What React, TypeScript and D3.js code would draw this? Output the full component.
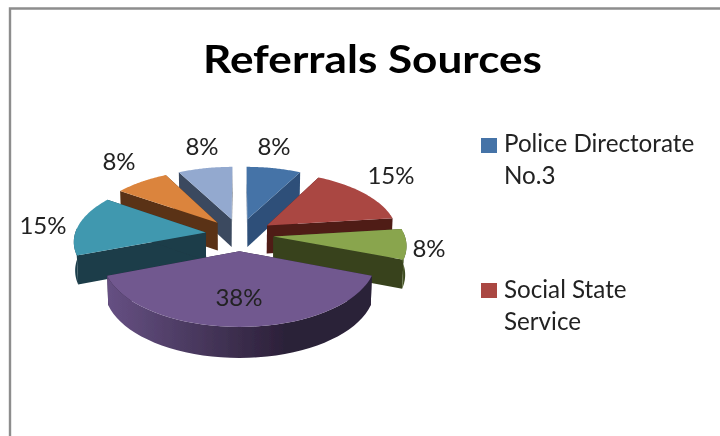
import React from "react";
import * as d3 from "d3";

const sources = ["Police Directorate No.3", "Social State Service", "Source 3", "Source 4", "Source 5", "Source 6", "Source 7"];
const counts = [1, 2, 1, 5, 2, 1, 1];
const topColors = ["#4573a7", "#aa4643", "#89a54e", "#71588f", "#4198af", "#db843d", "#93a9cf"];
const wallColors = ["#2e5079", "#4f1b18", "#38431f", "#2b2038", "#1b3c48", "#5a3316", "#3a485e"];
const rimLight = ["#3c6290", "#7a2f2c", "#55692e", "#665083", "#24505f", "#9a5a25", "#647590"];
const legendLines = [["Police Directorate", "No.3"], ["Social State", "Service"]];
const labelAnchors: [number, number][] = [[274, 155], [391, 184], [429, 257], [239, 306], [43, 234], [119, 170], [202, 155]];
const legendBaselines = [[152, 184], [298, 330]];
const legendSwatchY = [138, 283];

const CX = 239.5, CY = 234.5, RX = 131, RY = 62.2, K = 0.121, EXPLODE = 0.26, DEPTH = 28.3;

type P = [number, number];
const project = (X: number, Y: number, z: number): P => {
  const d = 1 + K * Y;
  return [CX + ((RX * X) / d) * (1 - z * 0.008), CY - (RY * Y) / d + (z * DEPTH) / (1 + 0.07 * Y)];
};
const lineGen = d3.line<P>().x((p) => p[0]).y((p) => p[1]);
const closed = (pts: P[]) => lineGen(pts)! + "Z";

export default function App() {
  const arcs = d3.pie<number>().sort(null).value((d) => d)(counts);
  const colorTop = d3.scaleOrdinal<number, string>().domain(d3.range(7)).range(topColors);

  const slices = arcs.map((a, i) => {
    const mid = (a.startAngle + a.endAngle) / 2;
    const ox = EXPLODE * Math.sin(mid), oy = EXPLODE * Math.cos(mid);
    const samples = d3.range(0, 41).map((t) => a.startAngle + ((a.endAngle - a.startAngle) * t) / 40);
    const rim = (z: number) => samples.map((t) => project(ox + Math.sin(t), oy + Math.cos(t), z));
    const apex = (z: number) => project(ox, oy, z);
    const top = closed([apex(0), ...rim(0)]);
    const cut = (t: number) => {
      const e = (z: number) => project(ox + Math.sin(t), oy + Math.cos(t), z);
      return closed([apex(0), e(0), e(1), apex(1)]);
    };
    const frontAngles = samples.filter((t) => Math.cos(t) < 0.08);
    const outerTop = frontAngles.map((t) => project(ox + Math.sin(t), oy + Math.cos(t), 0));
    const outerBot = frontAngles.map((t) => project(ox + Math.sin(t), oy + Math.cos(t), 1));
    const outer = outerTop.length > 1 ? closed([...outerTop, ...outerBot.reverse()]) : null;
    return { i, oy: oy + Math.cos(mid), top, cutA: cut(a.startAngle), cutB: cut(a.endAngle), outer };
  });
  const order = [...slices].sort((p, q) => q.oy - p.oy);

  return (
    <svg
      width={720}
      height={436}
      style={{ position: "absolute", left: 0, top: 0, background: "#fff" }}
      fontFamily="Lato, 'Open Sans', sans-serif"
    >
      <defs>
        {slices.map((s) => (
          <linearGradient key={s.i} id={`wall${s.i}`} x1="0" x2="1" y1="0" y2="0">
            <stop offset="0" stopColor={rimLight[s.i]} />
            <stop offset="0.68" stopColor={wallColors[s.i]} />
            <stop offset="1" stopColor={wallColors[s.i]} />
          </linearGradient>
        ))}
        <filter id="soft" x="-5%" y="-5%" width="110%" height="110%">
          <feGaussianBlur stdDeviation="0.45" />
        </filter>
      </defs>
      <g filter="url(#soft)">
        <path d="M10 436V8.5H720" fill="none" stroke="#8d8d8d" strokeWidth={2.4} />
        <text x={372.5} y={73} textAnchor="middle" fontSize={39} fontWeight={700} fill="#000" textLength={339} lengthAdjust="spacingAndGlyphs">
          Referrals Sources
        </text>
        {order.map((s) => (
          <g key={s.i}>
            <path d={s.cutA} fill={wallColors[s.i]} />
            <path d={s.cutB} fill={wallColors[s.i]} />
            {s.outer && <path d={s.outer} fill={`url(#wall${s.i})`} />}
            <path d={s.top} fill={colorTop(s.i)} />
          </g>
        ))}
        {arcs.map((a, i) => (
          <text key={i} x={labelAnchors[i][0]} y={labelAnchors[i][1]} textAnchor="middle" fontSize={24} fill="#222">
            {`${Math.round(((a.value as number) / d3.sum(counts)) * 100)}%`}
          </text>
        ))}
        {legendLines.map((lines, i) => (
          <g key={i}>
            <rect x={481} y={legendSwatchY[i]} width={16} height={15} fill={topColors[i]} />
            {lines.map((l, j) => (
              <text key={j} x={504} y={legendBaselines[i][j]} fontSize={24.2} fill="#222">
                {l}
              </text>
            ))}
          </g>
        ))}
      </g>
    </svg>
  );
}
